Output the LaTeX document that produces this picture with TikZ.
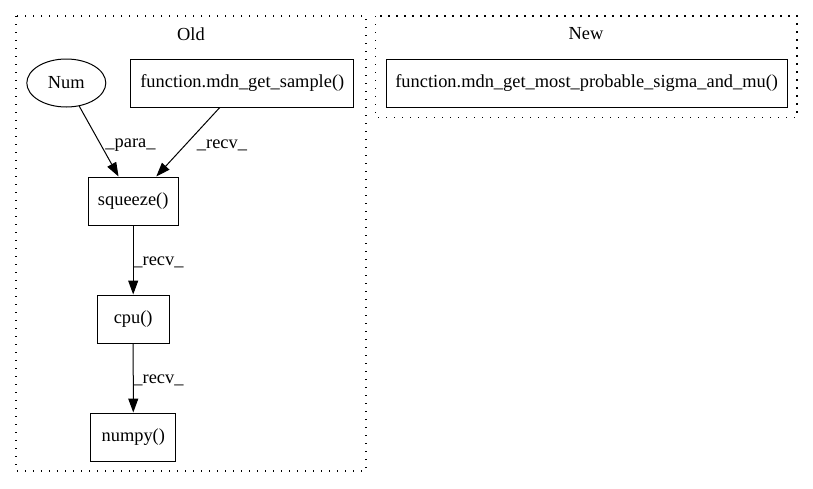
\documentclass[tikz,border=0pt]{standalone}
\usepackage{fontspec}
\setmainfont{Liberation Serif}
\usetikzlibrary{arrows.meta,calc,shapes.geometric}
\begin{document}
\begin{tikzpicture}[x=1pt,y=-1pt,
  every node/.style={font=\fontsize{18.4}{22}\selectfont, inner sep=0pt},
  cluster/.style={draw, line width=1.2pt, dash pattern=on 1.2pt off 6.8pt},
  opbox/.style={draw, line width=1pt, rectangle, minimum height=48pt},
  opell/.style={draw, line width=1pt, ellipse, minimum width=79pt, minimum height=48pt},
  arr/.style={line width=1pt, -{Triangle[length=14pt,width=10pt]}},
  lbl/.style={font=\fontsize{18.4}{22}\selectfont}
]
\useasboundingbox (0,0) rectangle (813,488);
% clusters
\draw[cluster] (16,16) rectangle (366,471);
\node (oldlbl) at (191,34) {Old};
\draw[cluster] (375.5,16) rectangle (797,117.5);
\node (newlbl) at (586,34) {New};
% nodes
\node[opell] (num) at (66.3,83) {Num};
\node[opbox, minimum width=223.3pt] (fn) at (242.3,83) {function.mdn\_get\_sample()};
\node[opbox, minimum width=90.3pt] (sq) at (133.2,201) {squeeze()};
\node[opbox, minimum width=72.3pt] (cpu) at (133.2,319) {cpu()};
\node[opbox, minimum width=84.7pt] (np) at (133.3,437) {numpy()};
\node[opbox, minimum width=400.7pt] (nw) at (586.7,83) {function.mdn\_get\_most\_probable\_sigma\_and\_mu()};
% edges
\draw[arr] (num) -- ($(sq.north west)+(31,0)$);
\draw[arr] (fn) -- ($(sq.north east)+(-22.6,0)$);
\draw[arr] (sq) -- (cpu);
\draw[arr] (cpu) -- (np);
% labels
\node[lbl] (l1) at (130.5,145) {\_para\_};
\node[lbl] (l2) at (222,145) {\_recv\_};
\node[lbl] (l3) at (158.5,262) {\_recv\_};
\node[lbl] (l4) at (158.5,380) {\_recv\_};
\end{tikzpicture}
\end{document}
